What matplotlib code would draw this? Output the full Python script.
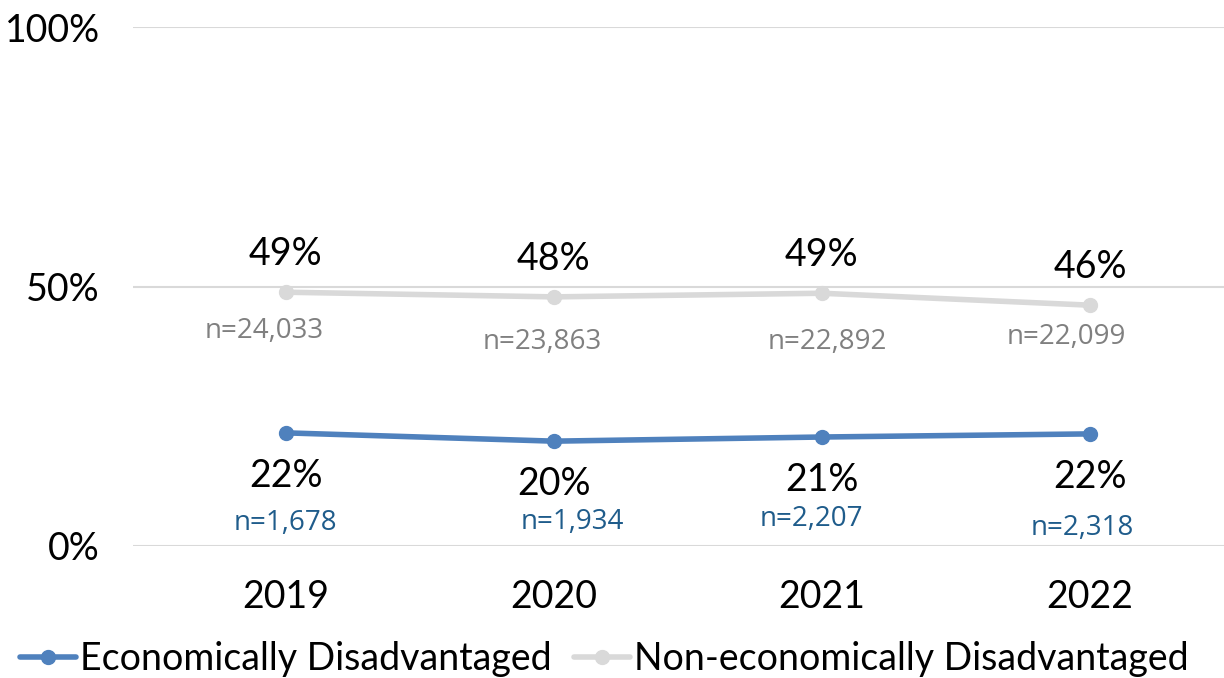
import matplotlib.pyplot as plt

years = ['2019', '2020', '2021', '2022']
econ = [21.8, 20.2, 21.0, 21.6]
non_econ = [48.9, 48.0, 48.7, 46.4]
econ_labels = ['22%', '20%', '21%', '22%']
non_econ_labels = ['49%', '48%', '49%', '46%']
econ_n = ['n=1,678', 'n=1,934', 'n=2,207', 'n=2,318']
non_econ_n = ['n=24,033', 'n=23,863', 'n=22,892', 'n=22,099']

# label offsets in pixels (dx, dy) relative to the point
econ_n_off = [(0, -90), (18, -81), (-11, -82), (-8, -94)]
non_econ_n_off = [(-22, -39), (-12, -45), (5, -49), (-24, -32)]

plt.rcParams['font.family'] = ['Lato', 'DejaVu Sans']

BLUE = '#4F81BD'
GREY = '#D9D9D9'

fig = plt.figure(figsize=(12.24, 6.78), dpi=100)
ax = fig.add_axes([133 / 1224, 1 - 546 / 678, (1224 - 133) / 1224, 519 / 678])

x = list(range(len(years)))
ax.plot(x, econ, color=BLUE, lw=4, marker='o', ms=10, label='Economically Disadvantaged',
        solid_capstyle='round')
ax.plot(x, non_econ, color=GREY, lw=4, marker='o', ms=10, label='Non-economically Disadvantaged',
        solid_capstyle='round')

pt = 0.72  # points per pixel at dpi 100
for i in x:
    ax.annotate(non_econ_labels[i], (i, non_econ[i]), xytext=(0, 38 * pt),
                textcoords='offset points', ha='center', va='center', fontsize=27)
    ax.annotate(econ_labels[i], (i, econ[i]), xytext=(0, -43 * pt),
                textcoords='offset points', ha='center', va='center', fontsize=27)
    dx, dy = non_econ_n_off[i]
    ax.annotate(non_econ_n[i], (i, non_econ[i]), xytext=(dx * pt, dy * pt),
                textcoords='offset points', ha='center', va='center', fontsize=20,
                color='#808080', family=['Open Sans', 'DejaVu Sans'])
    dx, dy = econ_n_off[i]
    ax.annotate(econ_n[i], (i, econ[i]), xytext=(dx * pt, dy * pt),
                textcoords='offset points', ha='center', va='center', fontsize=20,
                color='#1F5C8B', family=['Open Sans', 'DejaVu Sans'])

ax.set_ylim(0, 100)
ax.set_yticks([0, 50, 100])
ax.set_yticklabels(['0%', '50%', '100%'])
ax.set_xlim(-0.57, 3.5)
ax.set_xticks(x)
ax.set_xticklabels(years)
ax.tick_params(axis='both', length=0, labelsize=27, colors='black')
ax.tick_params(axis='y', pad=24)
ax.tick_params(axis='x', pad=24)
ax.grid(axis='y', color=GREY, lw=1.5)
ax.set_axisbelow(True)
for s in ax.spines.values():
    s.set_visible(False)

fig.legend(loc='center', bbox_to_anchor=(604 / 1224, 1 - 659 / 678), ncol=2, frameon=False,
           fontsize=27, handlelength=1.5, handletextpad=0.1, columnspacing=0.6)

fig.savefig('out.png', dpi=100)
